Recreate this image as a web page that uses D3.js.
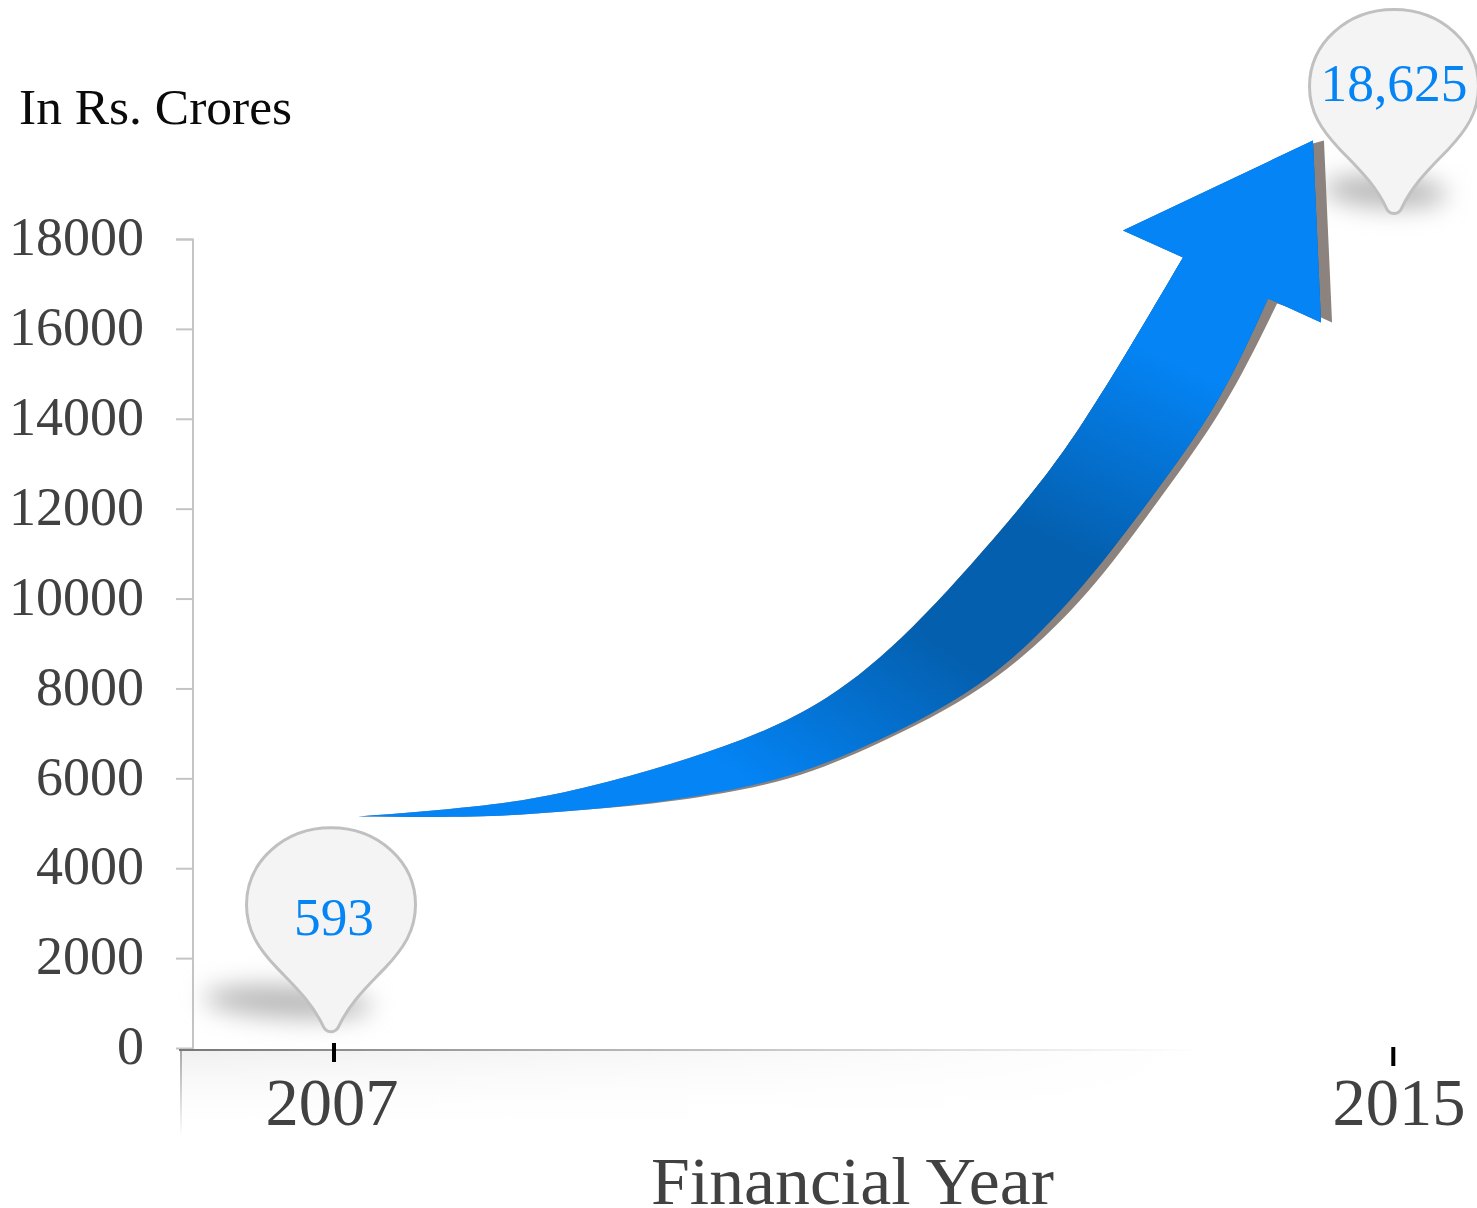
<!DOCTYPE html>
<html>
<head>
<meta charset="utf-8">
<style>
  html, body { margin: 0; padding: 0; background: #fff; }
  svg { display: block; }
  text { font-family: "Liberation Serif", serif; }
</style>
<script src="https://cdn.jsdelivr.net/npm/d3@7/dist/d3.min.js"></script>
</head>
<body>
<svg id="chart" width="1477" height="1208"></svg>
<script>
// Axis content
const yTicks = [0, 2000, 4000, 6000, 8000, 10000, 12000, 14000, 16000, 18000];
const years = [2007, 2015];
const values = [593, 18625];
const valueLabels = ["593", "18,625"];

// Growth arrow outline, as fractional year and Rs. crores
const upperYears = [2007.189, 2008.064, 2008.736, 2009.408, 2010.087, 2010.728, 2011.377, 2012.064, 2012.66, 2013.415];
const upperValues = [5162, 5385, 5696, 6208, 6875, 7810, 9390, 11614, 13929, 17600];
const headYears = [2012.962, 2014.396, 2014.457];
const headValues = [18201, 20203, 16154];
const lowerYears = [2014.057, 2013.672, 2013.166, 2012.653, 2012.132, 2011.634, 2011.128, 2010.623, 2010.087, 2009.408, 2008.736, 2008.064, 2007.189];
const lowerValues = [16688, 14396, 12215, 10279, 8700, 7654, 6875, 6252, 5807, 5474, 5273, 5162, 5162];

// Cast edge showing past the arrow's head and lower side
const castHeadYears = [2014.396, 2014.479, 2014.54, 2014.457];
const castHeadValues = [20136, 20203, 16154, 16265];
const castYears = [2014.125, 2013.717, 2013.219, 2012.698, 2012.147, 2011.634, 2011.128, 2010.623, 2010.087, 2009.408, 2008.736, 2008.064, 2007.189];
const castValues = [16576, 14284, 12149, 10168, 8589, 7565, 6808, 6186, 5763, 5451, 5273, 5162, 5162];

const axisX = 193;

const x = d3.scaleLinear().domain([2007, 2015]).range([333, 1393]);
const y = d3.scaleLinear().domain([0, 18000]).range([1048.5, 239.5]);

const svg = d3.select("#chart");
const defs = svg.append("defs");

function linear(id, coords, stops) {
  const g = defs.append("linearGradient").attr("id", id).attr("gradientUnits", "userSpaceOnUse")
    .attr("x1", coords[0]).attr("y1", coords[1]).attr("x2", coords[2]).attr("y2", coords[3]);
  stops.forEach(s => g.append("stop").attr("offset", s[0]).attr("stop-color", s[1]).attr("stop-opacity", s[2] ?? 1));
}

const bright = "#0484f5", deep = "#045fae";
linear("riseLower", [732, 770, 860, 587], [[0, bright], [1, deep]]);
linear("riseUpper", [977, 743, 1163, 357], [[0, deep, 0], [0.5, deep, 0], [0.5, deep, 1], [1, bright]]);
linear("baseLine", [179, 0, 1200, 0], [[0, "#777"], [0.35, "#aaa"], [1, "#fff"]]);
linear("floorFade", [0, 1050, 0, 1135], [[0, "#f0f0f0", 1], [1, "#fff", 0]]);
linear("floorFadeX", [181, 0, 1200, 0], [[0, "#fff", 0], [1, "#fff", 1]]);
linear("floorEdge", [0, 1050, 0, 1136], [[0, "#a8a8a8", 1], [1, "#fff", 1]]);

defs.append("filter").attr("id", "soft").attr("x", "-50%").attr("y", "-250%").attr("width", "200%").attr("height", "600%")
  .append("feGaussianBlur").attr("stdDeviation", 12);

// Floor under the horizontal axis
svg.append("rect").attr("x", 181).attr("y", 1050).attr("width", 1020).attr("height", 86).attr("fill", "url(#floorFade)");
svg.append("rect").attr("x", 181).attr("y", 1050).attr("width", 1020).attr("height", 86).attr("fill", "url(#floorFadeX)");
svg.append("rect").attr("x", 180).attr("y", 1050).attr("width", 2).attr("height", 86).attr("fill", "url(#floorEdge)");

// Vertical axis
const yAxis = d3.axisLeft(y).tickValues(yTicks).tickSize(17).tickPadding(32).tickFormat(d3.format("d")).offset(0);
const yG = svg.append("g").attr("transform", `translate(${axisX},0)`).call(yAxis);
yG.select(".domain").attr("stroke", "#c4c4c4").attr("stroke-width", 2);
yG.selectAll(".tick line").attr("stroke", "#c4c4c4").attr("stroke-width", 2);
yG.selectAll(".tick").filter(d => d === 0).select("line").attr("stroke", "none");
yG.selectAll("text").attr("font-size", 54).attr("fill", "#414141").attr("font-family", "Liberation Serif").attr("dy", "0.29em");

// Horizontal axis
svg.append("rect").attr("x", 179).attr("y", 1049).attr("width", 1021).attr("height", 2).attr("fill", "url(#baseLine)");
const tickTop = [1043, 1047], tickNudge = [1, 0.3];
svg.selectAll(".year-tick").data(years).join("rect").attr("class", "year-tick")
  .attr("x", (d, i) => x(d) - 2 + tickNudge[i]).attr("y", (d, i) => tickTop[i]).attr("width", 4).attr("height", 19).attr("fill", "#000");
const labelShift = [-1, 6];
svg.selectAll(".year-label").data(years).join("text").attr("class", "year-label")
  .attr("x", (d, i) => x(d) + labelShift[i]).attr("y", 1125)
  .attr("text-anchor", "middle").attr("font-size", 67).attr("fill", "#414141")
  .attr("textLength", 133).attr("lengthAdjust", "spacingAndGlyphs").text(d => d);

// Axis captions
svg.append("text").attr("x", 19).attr("y", 124).attr("font-size", 50).attr("fill", "#0a0a0a")
  .attr("textLength", 273).attr("lengthAdjust", "spacingAndGlyphs").text("In Rs. Crores");
svg.append("text").attr("x", 651).attr("y", 1204).attr("font-size", 67).attr("fill", "#414141")
  .attr("textLength", 403).attr("lengthAdjust", "spacingAndGlyphs").text("Financial Year");

// Soft ground shadows beneath the pins
const tipDrop = [11, 3];
const pinShadowX = [-45, -8], pinShadowY = [-31, -23], pinShadowRx = [84, 62], pinShadowRy = [16, 16];
svg.selectAll(".pin-shadow").data(values).join("ellipse").attr("class", "pin-shadow")
  .attr("cx", (d, i) => x(years[i]) + pinShadowX[i])
  .attr("cy", (d, i) => y(d) + tipDrop[i] + pinShadowY[i])
  .attr("rx", (d, i) => pinShadowRx[i]).attr("ry", (d, i) => pinShadowRy[i])
  .attr("transform", (d, i) => `rotate(3 ${x(years[i]) + pinShadowX[i]} ${y(d) + tipDrop[i] + pinShadowY[i]})`)
  .attr("fill", "#b8b8b8").attr("filter", "url(#soft)");

// Growth arrow: cast first, then the body with its two gradient passes
const zip = (a, b) => a.map((v, i) => [x(v), y(b[i])]);
const smooth = d3.line().curve(d3.curveNatural);
const upperEdge = smooth(zip(upperYears, upperValues));
const asContinuation = d => "L" + d.slice(1);
const corners = pts => pts.map(p => `L${p[0]},${p[1]}`).join("");

const bodyPath = upperEdge + corners(zip(headYears, headValues)) + asContinuation(smooth(zip(lowerYears, lowerValues))) + "Z";
const castPath = upperEdge + corners(zip(castHeadYears, castHeadValues)) + asContinuation(smooth(zip(castYears, castValues))) + "Z";

svg.append("path").attr("d", castPath).attr("fill", "#8c827e");
svg.append("path").attr("d", bodyPath).attr("fill", "url(#riseLower)");
svg.append("path").attr("d", bodyPath).attr("fill", "url(#riseUpper)");

// Value pins: traced from the tip up around the round head
const pinDx = [-2, 1];
function pinPath(tx, ty) {
  const p = d3.path();
  const r = 84.5, wide = 128, top = 205;
  p.moveTo(tx - 8, ty - 7);
  p.bezierCurveTo(tx - 20, ty - 32, tx - 38, ty - 48, tx - 55, ty - 66);
  p.bezierCurveTo(tx - 72, ty - 84, tx - r, ty - 102, tx - r, ty - wide);
  p.bezierCurveTo(tx - r, ty - 171, tx - 47, ty - top, tx, ty - top);
  p.bezierCurveTo(tx + 47, ty - top, tx + r, ty - 171, tx + r, ty - wide);
  p.bezierCurveTo(tx + r, ty - 102, tx + 72, ty - 84, tx + 55, ty - 66);
  p.bezierCurveTo(tx + 38, ty - 48, tx + 20, ty - 32, tx + 8, ty - 7);
  p.bezierCurveTo(tx + 5, ty + 1, tx - 5, ty + 1, tx - 8, ty - 7);
  p.closePath();
  return p.toString();
}
svg.selectAll(".pin").data(values).join("path").attr("class", "pin")
  .attr("d", (d, i) => pinPath(x(years[i]) + pinDx[i], y(d) + tipDrop[i]))
  .attr("fill", "#f4f4f4").attr("stroke", "#c0c0c0").attr("stroke-width", 3);

const pinLabelX = [334, 1394], pinLabelY = [935, 101], pinLabelW = [80, 147];
svg.selectAll(".pin-label").data(valueLabels).join("text").attr("class", "pin-label")
  .attr("x", (d, i) => pinLabelX[i]).attr("y", (d, i) => pinLabelY[i])
  .attr("text-anchor", "middle").attr("font-size", 53).attr("fill", "#0484f5")
  .attr("textLength", (d, i) => pinLabelW[i]).attr("lengthAdjust", "spacingAndGlyphs").text(d => d);
</script>
</body>
</html>
